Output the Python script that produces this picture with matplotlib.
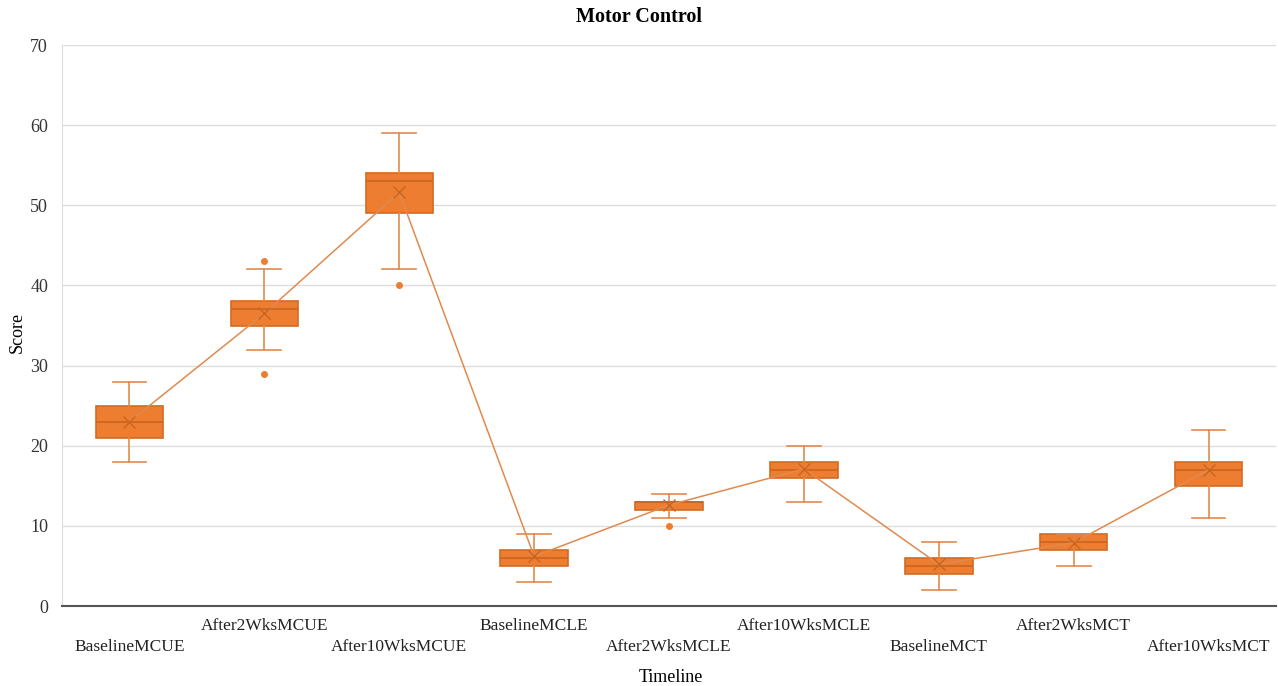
import matplotlib
matplotlib.use("Agg")
import matplotlib.pyplot as plt

plt.rcParams['font.family'] = ['Liberation Serif', 'DejaVu Serif']

# five-number summaries
labels = ['BaselineMCUE', 'After2WksMCUE', 'After10WksMCUE', 'BaselineMCLE', 'After2WksMCLE',
          'After10WksMCLE', 'BaselineMCT', 'After2WksMCT', 'After10WksMCT']
whislo = [18, 32, 42, 3, 11, 13, 2, 5, 11]
q1 = [21, 35, 49, 5, 12, 16, 4, 7, 15]
med = [23, 37, 53, 6, 13, 17, 5, 8, 17]
q3 = [25, 38, 54, 7, 13, 18, 6, 9, 18]
whishi = [28, 42, 59, 9, 14, 20, 8, 9, 22]
means = [23, 36.5, 51.6, 6.2, 12.6, 17.1, 5.2, 7.9, 17]
fliers = [[], [43, 29], [40], [], [10], [], [], [], []]

stats = []
for i in range(len(labels)):
    stats.append(dict(label=labels[i], whislo=whislo[i], q1=q1[i], med=med[i], q3=q3[i],
                      whishi=whishi[i], mean=means[i], fliers=fliers[i]))

fill = '#ED7D31'
edge = '#D46A22'
line_c = '#E08A4F'

fig = plt.figure(figsize=(12.78, 6.86), dpi=100)
ax = fig.add_axes([0.0485, 0.1166, 0.950, 0.8178])

pos = list(range(1, len(labels) + 1))
ax.bxp(stats, positions=pos, widths=0.5, patch_artist=True, showmeans=False,
       boxprops=dict(facecolor=fill, edgecolor=edge, linewidth=1.2),
       medianprops=dict(color='#C9651F', linewidth=1.2),
       whiskerprops=dict(color=line_c, linewidth=1.2),
       capprops=dict(color=line_c, linewidth=1.2),
       flierprops=dict(marker='o', markersize=4, markerfacecolor=fill, markeredgecolor=fill))
ax.plot(pos, means, color=line_c, linewidth=1.1, marker='x', markersize=9,
        markeredgecolor='#C9651F', markeredgewidth=1.0, zorder=5)

ax.set_xlim(0.5, len(labels) + 0.5)
ax.set_ylim(0, 70)
ax.set_yticks(range(0, 71, 10))
ax.yaxis.grid(True, color='#DDDDDD', linewidth=1)
ax.set_axisbelow(True)
ax.tick_params(axis='y', length=0, labelsize=13, pad=10, labelcolor='#333333')
ax.tick_params(axis='x', length=0)
ax.set_xticks(pos)
ax.set_xticklabels([])
for i, lab in enumerate(labels):
    yoff = -0.0731 if i % 2 == 0 else -0.0357
    ax.text(pos[i], yoff, lab, transform=ax.get_xaxis_transform(), ha='center', va='center',
            fontsize=12.5, color='#222222')

for s in ['top', 'right']:
    ax.spines[s].set_visible(False)
ax.spines['left'].set_color('#DDDDDD')
ax.spines['bottom'].set_color('#555555')
ax.spines['bottom'].set_linewidth(1.5)

fig.text(0.5, 1 - 17 / 686, 'Motor Control', ha='center', va='center', fontsize=14.5, fontweight='bold')
fig.text(17 / 1278, 1 - 332 / 686, 'Score', rotation=90, ha='center', va='center', fontsize=13)
fig.text(0.525, 1 - 677 / 686, 'Timeline', ha='center', va='center', fontsize=13)

fig.savefig('out.png', dpi=100)
